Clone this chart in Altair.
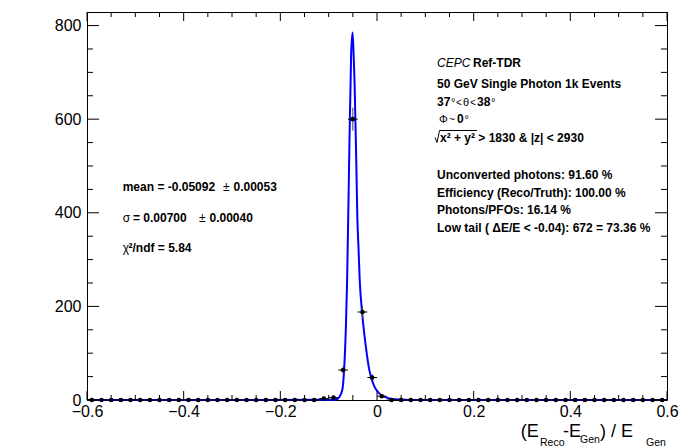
import altair as alt
import pandas as pd

# ---------------- data ----------------
bin_centers = [-0.59, -0.57, -0.55, -0.53, -0.51, -0.49, -0.47, -0.45, -0.43, -0.41,
               -0.39, -0.37, -0.35, -0.33, -0.31, -0.29, -0.27, -0.25, -0.23, -0.21,
               -0.19, -0.17, -0.15, -0.13, -0.11, -0.09, -0.07, -0.05, -0.03, -0.01,
               0.01, 0.03, 0.05, 0.07, 0.09, 0.11, 0.13, 0.15, 0.17, 0.19,
               0.21, 0.23, 0.25, 0.27, 0.29, 0.31, 0.33, 0.35, 0.37, 0.39,
               0.41, 0.43, 0.45, 0.47, 0.49, 0.51, 0.53, 0.55, 0.57, 0.59]
bin_counts = [0, 0, 0, 0, 0, 0, 0, 0, 0, 0,
              0, 0, 0, 0, 0, 0, 0, 0, 0, 0,
              0, 0, 0, 0, 3, 5, 64, 600, 188, 48,
              8, 0, 0, 0, 0, 0, 0, 0, 0, 0,
              0, 0, 0, 0, 0, 0, 0, 0, 0, 0,
              0, 0, 0, 0, 0, 0, 0, 0, 0, 0]
bin_errors = [0, 0, 0, 0, 0, 0, 0, 0, 0, 0,
              0, 0, 0, 0, 0, 0, 0, 0, 0, 0,
              0, 0, 0, 0, 1.7, 2.2, 8.0, 24.5, 13.7, 6.9,
              2.8, 0, 0, 0, 0, 0, 0, 0, 0, 0,
              0, 0, 0, 0, 0, 0, 0, 0, 0, 0,
              0, 0, 0, 0, 0, 0, 0, 0, 0, 0]
half_bin = 0.01

# fitted curve
fit_x = [-0.6, -0.095, -0.085, -0.078, -0.0715, -0.068, -0.0645, -0.0618, -0.0607,
         -0.0595, -0.0578, -0.0562, -0.0548, -0.0535, -0.0505, -0.0485, -0.0462,
         -0.0447, -0.0427, -0.0407, -0.0381, -0.0358, -0.0308, -0.0232, -0.0163,
         -0.0060, 0.0058, 0.0230, 0.045, 0.07, 0.6]
fit_y = [0, 0.3, 1, 6, 23, 66, 151, 257, 321,
         392, 500, 598, 669, 740, 785, 740, 669,
         598, 500, 392, 321, 257, 187, 115, 66,
         30, 13, 4, 1, 0, 0]

x_major = [-0.6, -0.4, -0.2, 0, 0.2, 0.4, 0.6]
x_minor = [-0.55, -0.5, -0.45, -0.35, -0.3, -0.25, -0.15, -0.1, -0.05,
           0.05, 0.1, 0.15, 0.25, 0.3, 0.35, 0.45, 0.5, 0.55]
y_major = [0, 200, 400, 600, 800]
y_minor = [50, 100, 150, 250, 300, 350, 450, 500, 550, 650, 700, 750]

W, H = 580, 388
XDOM = [-0.6, 0.6]
YDOM = [0, 829]
FONT = "Liberation Sans"

xs = alt.Scale(domain=XDOM, nice=False, zero=False)
ys = alt.Scale(domain=YDOM, nice=False, zero=False)

hist = pd.DataFrame({"x": bin_centers, "n": bin_counts, "e": bin_errors})
fit = pd.DataFrame({"x": fit_x, "y": fit_y})

base_hist = alt.Chart(hist).transform_calculate(
    xlo=f"datum.x - {half_bin}", xhi=f"datum.x + {half_bin}",
    ylo="datum.n - datum.e", yhi="datum.n + datum.e")

# axis carrier (labels only)
axes = alt.Chart(hist).mark_point(opacity=0).encode(
    x=alt.X("x:Q", scale=xs, axis=alt.Axis(values=x_major, ticks=False, domain=False, grid=False,
                                             labelFontSize=16, labelFont=FONT, labelColor="black",
                                             labelPadding=3, labelFlush=False, labelOverlap=False,
                                             format="~g", title=None)),
    y=alt.Y("n:Q", scale=ys, axis=alt.Axis(values=y_major, ticks=False, domain=False, grid=False,
                                             labelFontSize=16, labelFont=FONT, labelColor="black",
                                             labelPadding=6, labelFlush=False, labelOverlap=False,
                                             format="d", title=None)),
)

curve = alt.Chart(fit).mark_line(color="#0000ff", strokeWidth=2, interpolate="monotone").encode(
    x=alt.X("x:Q", scale=xs), y=alt.Y("y:Q", scale=ys))

herr = base_hist.mark_rule(color="black", strokeWidth=1).encode(
    x=alt.X("xlo:Q", scale=xs), x2="xhi:Q", y=alt.Y("n:Q", scale=ys))
verr = base_hist.transform_filter("datum.n > 0").mark_rule(color="#444444", strokeWidth=1).encode(
    x=alt.X("x:Q", scale=xs), y=alt.Y("ylo:Q", scale=ys), y2="yhi:Q")
pts = alt.Chart(hist).mark_circle(color="black", size=22, opacity=1).encode(
    x=alt.X("x:Q", scale=xs), y=alt.Y("n:Q", scale=ys))


def ticks_x(vals, length):
    d = pd.DataFrame({"v": vals})
    bot = alt.Chart(d).mark_rule(color="black", strokeWidth=1).encode(
        x=alt.X("v:Q", scale=xs), y=alt.value(H), y2=alt.value(H - length))
    top = alt.Chart(d).mark_rule(color="black", strokeWidth=1).encode(
        x=alt.X("v:Q", scale=xs), y=alt.value(0), y2=alt.value(length))
    return [bot, top]


def ticks_y(vals, length):
    d = pd.DataFrame({"v": vals})
    left = alt.Chart(d).mark_rule(color="black", strokeWidth=1).encode(
        y=alt.Y("v:Q", scale=ys), x=alt.value(0), x2=alt.value(length))
    right = alt.Chart(d).mark_rule(color="black", strokeWidth=1).encode(
        y=alt.Y("v:Q", scale=ys), x=alt.value(W), x2=alt.value(W - length))
    return [left, right]


one = pd.DataFrame({"a": [0]})


def txt(s, x, y, size=12, weight="bold", style="normal"):
    return alt.Chart(one).mark_text(align="left", baseline="alphabetic", font=FONT,
                                    fontSize=size, fontWeight=weight, fontStyle=style,
                                    color="black").encode(
        x=alt.value(x), y=alt.value(y), text=alt.value(s))


def seg(x1, y1, x2, y2):
    return alt.Chart(one).mark_rule(color="black", strokeWidth=1).encode(
        x=alt.value(x1), y=alt.value(y1), x2=alt.value(x2), y2=alt.value(y2))


texts = [
    txt("CEPC", 350, 55.3, size=12, weight="normal", style="italic"),
    txt("Ref-TDR", 386, 55.3, size=12),
    txt("50 GeV Single Photon 1k Events", 350, 76.3),
    txt("37", 350, 94), txt("°", 364, 94, size=11, weight="normal"),
    txt("<", 369, 94, size=10, weight="normal"), txt("θ", 376, 94, size=11, weight="normal"),
    txt("<", 383, 94, size=10, weight="normal"), txt("38", 390, 94),
    txt("°", 404, 94, size=11, weight="normal"),
    txt("Φ", 352, 110.7, size=11, weight="normal"), txt("~", 362, 110.7, size=10, weight="normal"),
    txt("0", 370, 110.7), txt("°", 377.5, 110.7, size=11, weight="normal"),
    txt("x² + y² > 1830 & |z| < 2930", 353, 130.3),
    txt("Unconverted photons: 91.60 %", 350, 167.3),
    txt("Efficiency (Reco/Truth): 100.00 %", 350, 184.7),
    txt("Photons/PFOs: 16.14 %", 350, 202),
    txt("Low tail ( ΔE/E < -0.04): 672 = 73.36 %", 350, 219.7),
    txt("mean = -0.05092", 35.7, 178.7), txt("±", 136, 178.7, weight="normal"),
    txt("0.00053", 146.5, 178.7),
    txt("σ", 35.7, 209.7, weight="normal"), txt("= 0.00700", 46, 209.7),
    txt("±", 112, 209.7, weight="normal"), txt("0.00040", 122.5, 209.7),
    txt("χ", 35.7, 239.7, weight="normal"), txt("²/ndf = 5.84", 41.5, 239.7),
    txt("(E", 433.7, 425, size=18, weight="normal"),
    txt("Reco", 453, 433.5, size=10.5, weight="normal"),
    txt("-E", 476, 425, size=18, weight="normal"),
    txt("Gen", 493, 430.5, size=10.5, weight="normal"),
    txt(") / E", 513, 425, size=18, weight="normal"),
    txt("Gen", 559, 433.5, size=10.5, weight="normal"),
]

# square-root sign drawn with strokes
sqrt_sign = [
    seg(348.0, 125.5, 350.0, 130.5),
    seg(350.0, 130.5, 352.5, 118.5),
    seg(352.5, 118.5, 390.0, 118.5),
]

layers = [axes, curve, herr, verr, pts]
layers += ticks_x(x_major, 9) + ticks_x(x_minor, 5)
layers += ticks_y(y_major, 12) + ticks_y(y_minor, 6)
layers += sqrt_sign + texts

chart = alt.layer(*layers).properties(
    width=W, height=H,
    autosize=alt.AutoSizeParams(type="none"),
    padding={"left": 87, "top": 12, "right": 21, "bottom": 47},
    background="white",
).configure_view(stroke="black", strokeWidth=1)

chart.save("out.html", embed_options={"renderer": "svg", "actions": False})
